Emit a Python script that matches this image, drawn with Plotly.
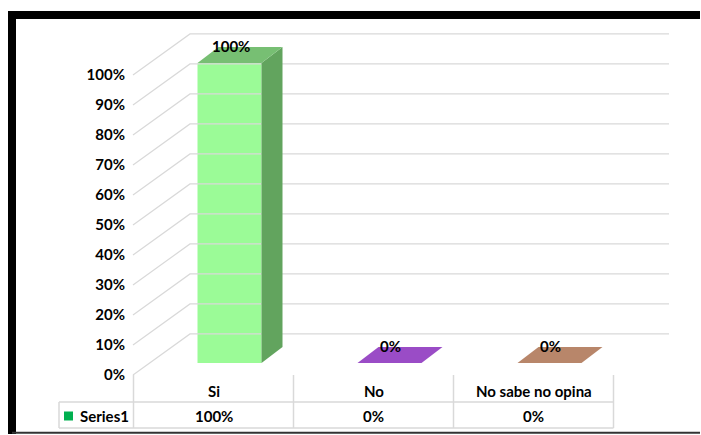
import plotly.graph_objects as go

# ---- data ----
categories = ["Si", "No", "No sabe no opina"]
values = [100, 0, 0]            # percent
series_name = "Series1"
tick_values = [0, 10, 20, 30, 40, 50, 60, 70, 80, 90, 100]
tick_text = [f"{t}%" for t in tick_values]

front_colors = ["#9BFB97", "#A259CF", "#C08F72"]
side_colors = ["#62A45E", "#7A3AA0", "#95694F"]
top_colors = ["#77BF73", "#9A4CC6", "#B8866A"]
legend_color = "#00B050"

W, H = 700, 434
FONT = "Lato"
GRID = "#D9D9D9"

# x axis is in pixels, y axis is in percent (3 px per percent)
Y0_PX = 375.0
PX_PER = 3.0


def yv(py):
    return (Y0_PX - py) / PX_PER


def px_paper(px):
    return px / W


def py_paper(py):
    return 1 - py / H


col_left = 133.5          # left edge of first table column
col_w = 160.0
bar_w = 64.0
bar_shift = 16.0          # perspective shift of bars vs. table columns
base = 4.0                # bar base above front floor edge (percent units)
dx, dy = 21.0, 16.0 / PX_PER   # depth of a bar
wall_dx, wall_dy = 57.0, 13.7  # side wall depth
wall_right = 669.0

fig = go.Figure()

# gridlines (side wall + back wall)
for t in tick_values:
    fig.add_trace(go.Scatter(
        x=[col_left - 0.5, col_left - 0.5 + wall_dx, wall_right],
        y=[t, t + wall_dy, t + wall_dy],
        mode="lines", line=dict(color=GRID, width=1.2),
        hoverinfo="skip", showlegend=False))

centers = [col_left + col_w * (i + 0.5) for i in range(len(categories))]
bar_x = [c + bar_shift for c in centers]

# front faces
fig.add_trace(go.Bar(
    x=bar_x, y=values, base=[base] * len(values), width=bar_w,
    marker=dict(color=front_colors, line=dict(width=0)),
    showlegend=False, hoverinfo="skip"))

# side and top faces
for i, v in enumerate(values):
    x0 = bar_x[i] - bar_w / 2
    x1 = bar_x[i] + bar_w / 2
    top = base + v
    if v > 0:
        fig.add_trace(go.Scatter(
            x=[x1, x1 + dx, x1 + dx, x1, x1],
            y=[base, base + dy, top + dy, top, base],
            fill="toself", fillcolor=side_colors[i], mode="lines",
            line=dict(width=0, color=side_colors[i]),
            hoverinfo="skip", showlegend=False))
    fig.add_trace(go.Scatter(
        x=[x0, x1, x1 + dx, x0 + dx, x0],
        y=[top, top, top + dy, top + dy, top],
        fill="toself", fillcolor=top_colors[i], mode="lines",
        line=dict(width=0, color=top_colors[i]),
        hoverinfo="skip", showlegend=False))
    fig.add_annotation(x=bar_x[i] + 1, y=top + 17 / PX_PER, text=f"{v}%",
                       showarrow=False, xanchor="center", yanchor="middle",
                       font=dict(family=FONT, size=15, color="#000000", weight="bold"))

# data table lines
y_top, y_mid, y_bot = yv(375), yv(402), yv(428)
table_left = 59.0
for i in range(len(categories) + 1):
    xv = col_left + col_w * i
    fig.add_trace(go.Scatter(x=[xv, xv], y=[y_top, y_bot], mode="lines",
                             line=dict(color=GRID, width=1.5),
                             hoverinfo="skip", showlegend=False))
for yy in (y_mid, y_bot):
    fig.add_trace(go.Scatter(x=[table_left, col_left + col_w * len(categories)],
                             y=[yy, yy], mode="lines",
                             line=dict(color=GRID, width=1.5),
                             hoverinfo="skip", showlegend=False))
fig.add_trace(go.Scatter(x=[table_left, table_left], y=[y_mid, y_bot], mode="lines",
                         line=dict(color=GRID, width=1.5),
                         hoverinfo="skip", showlegend=False))

# table text
row1_y, row2_y = yv(391), yv(416)
for i, c in enumerate(categories):
    fig.add_annotation(x=centers[i], y=row1_y, text=c, showarrow=False,
                       font=dict(family=FONT, size=15, color="#000000", weight="bold"))
    fig.add_annotation(x=centers[i], y=row2_y, text=f"{values[i]}%", showarrow=False,
                       font=dict(family=FONT, size=15, color="#000000", weight="bold"))

# legend key in the table
fig.add_trace(go.Scatter(x=[68.5], y=[row2_y], mode="markers",
                         marker=dict(symbol="square", size=9, color=legend_color),
                         hoverinfo="skip", showlegend=False))
fig.add_annotation(x=78, y=row2_y, text=series_name, showarrow=False, xanchor="left",
                   font=dict(family=FONT, size=15, color="#000000", weight="bold"))

# outer frame (paper coordinates): top and left thick, bottom thin
fig.add_shape(type="line", x0=px_paper(8), x1=px_paper(W + 2),
              y0=py_paper(15), y1=py_paper(15),
              xref="paper", yref="paper", line=dict(color="black", width=8))
fig.add_shape(type="line", x0=px_paper(12), x1=px_paper(12),
              y0=py_paper(11), y1=py_paper(H + 2),
              xref="paper", yref="paper", line=dict(color="black", width=8))
fig.add_shape(type="line", x0=px_paper(12), x1=px_paper(W + 2),
              y0=py_paper(432.8), y1=py_paper(432.8),
              xref="paper", yref="paper", line=dict(color="#333333", width=2))

fig.update_layout(
    width=W, height=H,
    margin=dict(l=0, r=0, t=0, b=0),
    paper_bgcolor="white", plot_bgcolor="white",
    barmode="overlay",
    xaxis=dict(range=[0, W], visible=False, fixedrange=True),
    yaxis=dict(range=[yv(H), yv(0)], anchor="free", position=px_paper(125),
               tickvals=tick_values, ticktext=tick_text, ticks="", fixedrange=True,
               showgrid=False, zeroline=False, showline=False,
               tickfont=dict(family=FONT, size=15, color="#000000", weight="bold")),
    showlegend=False,
)

fig.write_html(
    "out.html", config={"displayModeBar": False},
    post_script=("document.documentElement.style.overflow='hidden';"
                 "document.body.style.margin='0';"
                 "document.body.style.overflow='hidden';"))
